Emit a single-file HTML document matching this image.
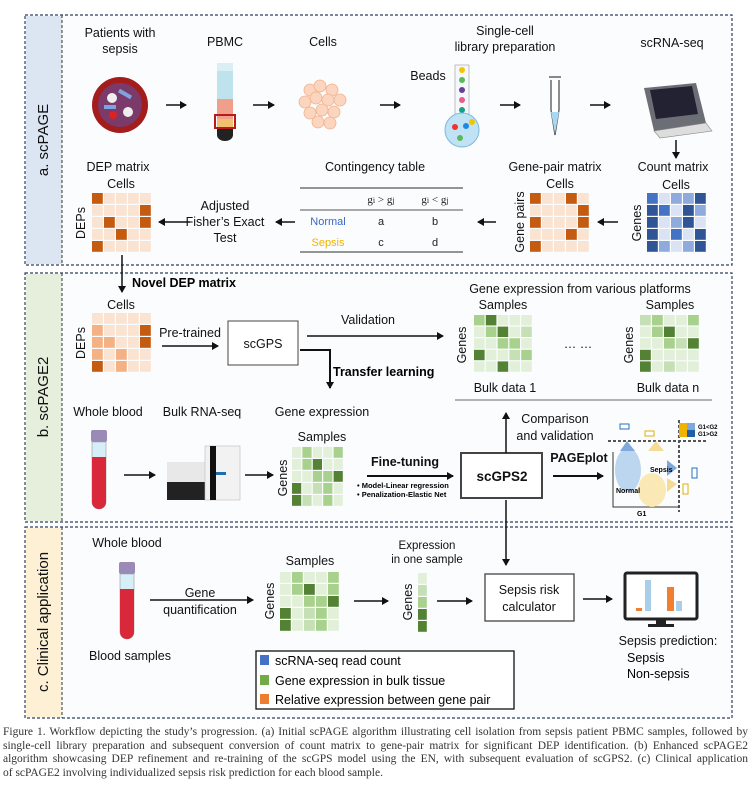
<!DOCTYPE html>
<html><head><meta charset="utf-8"><style>
html,body{margin:0;padding:0;background:#fff;}
svg{display:block;font-family:"Liberation Sans",sans-serif;}
.t{font-size:12.5px;fill:#111;text-anchor:middle;}
.b{font-weight:bold;}
.cap{position:absolute;left:3px;top:726px;width:745px;font-family:"Liberation Serif",serif;font-size:11.5px;line-height:13.6px;color:#333;}
.cap div{text-align:justify;text-align-last:justify;white-space:nowrap;}
.cap div.l{text-align-last:left;}
</style></head><body>
<div style="position:relative;width:752px;height:794px;overflow:hidden">
<svg id="s" width="752" height="794" viewBox="0 0 752 794">
<defs>
<marker id="ar" markerWidth="8" markerHeight="8" refX="6" refY="4" orient="auto" markerUnits="userSpaceOnUse"><path d="M0,0 L7,4 L0,8 z" fill="#111"/></marker>
</defs>
<rect x="25" y="15" width="707" height="250" fill="#fbfcfd" stroke="#2f3f5f" stroke-dasharray="3,2" stroke-width="1.2"/>
<rect x="26" y="16" width="36" height="248" fill="#dce6f2"/>
<line x1="62" y1="15" x2="62" y2="265" stroke="#333" stroke-dasharray="3,2"/>
<rect x="25" y="273" width="707" height="249" fill="#fbfcfd" stroke="#2f3f5f" stroke-dasharray="3,2" stroke-width="1.2"/>
<rect x="26" y="274" width="36" height="247" fill="#e5efdc"/>
<line x1="62" y1="273" x2="62" y2="522" stroke="#333" stroke-dasharray="3,2"/>
<rect x="25" y="527" width="707" height="191" fill="#fbfcfd" stroke="#2f3f5f" stroke-dasharray="3,2" stroke-width="1.2"/>
<rect x="26" y="528" width="36" height="189" fill="#fdf0d5"/>
<line x1="62" y1="527" x2="62" y2="718" stroke="#333" stroke-dasharray="3,2"/>
<text class="t" style="font-size:15px" transform="translate(48,140) rotate(-90)">a. scPAGE</text>
<text class="t" style="font-size:15px" transform="translate(48,397) rotate(-90)">b. scPAGE2</text>
<text class="t" style="font-size:15px" transform="translate(48,622) rotate(-90)">c. Clinical application</text>

<text class="t" x="120" y="37">Patients with</text><text class="t" x="120" y="53">sepsis</text>
<text class="t" x="225" y="46">PBMC</text>
<text class="t" x="323" y="46">Cells</text>
<text class="t" x="505" y="35">Single-cell</text><text class="t" x="505" y="51">library preparation</text>
<text class="t" x="672" y="47">scRNA-seq</text>
<text class="t" x="428" y="80">Beads</text>
<circle cx="120" cy="105" r="28" fill="#a31d1d"/><circle cx="120" cy="105" r="22" fill="#7a3a6a"/>
<circle cx="112" cy="98" r="5" fill="#eee"/><circle cx="128" cy="112" r="5" fill="#eee"/><circle cx="113" cy="115" r="4" fill="#d22"/>
<rect x="118" y="92" width="14" height="4" fill="#7da3e0" transform="rotate(30 125 94)"/><rect x="104" y="105" width="12" height="4" fill="#7da3e0"/>
<rect x="217" y="63" width="16" height="8" fill="#dbeef3"/><rect x="217" y="71" width="16" height="28" fill="#bfe3ec"/>
<rect x="217" y="99" width="16" height="20" fill="#f0a08a"/><rect x="217" y="119" width="16" height="10" fill="#f2c070"/>
<rect x="215" y="115" width="20" height="13" fill="none" stroke="#b71c1c" stroke-width="2"/>
<path d="M217,129 h16 v6 a8,6 0 0 1 -16,0z" fill="#222"/>
<g fill="#fbd5bd" stroke="#f0b090" stroke-width=".8">
<circle cx="310" cy="90" r="6"/><circle cx="320" cy="86" r="6"/><circle cx="332" cy="90" r="6"/><circle cx="340" cy="100" r="6"/><circle cx="305" cy="102" r="6"/><circle cx="316" cy="98" r="6"/><circle cx="328" cy="100" r="6"/><circle cx="310" cy="113" r="6"/><circle cx="322" cy="110" r="6"/><circle cx="334" cy="112" r="6"/><circle cx="318" cy="122" r="6"/><circle cx="330" cy="123" r="6"/></g>
<rect x="455" y="65" width="14" height="50" fill="#f4f8fb" stroke="#999" stroke-width=".6"/>
<circle cx="462" cy="70" r="3" fill="#f5c400"/><circle cx="462" cy="80" r="3" fill="#5cb85c"/><circle cx="462" cy="90" r="3" fill="#6a3d9a"/><circle cx="462" cy="100" r="3" fill="#e85c8a"/><circle cx="462" cy="110" r="3" fill="#16a085"/>
<circle cx="462" cy="130" r="17" fill="#bfe3f5" stroke="#7fb8d8"/>
<circle cx="455" cy="127" r="3" fill="#e33"/><circle cx="466" cy="126" r="3" fill="#1e88e5"/><circle cx="460" cy="138" r="3" fill="#5cb85c"/><circle cx="472" cy="122" r="3" fill="#f5c400"/>
<path d="M549,77 h12 M551,80 v30 l4,25 l4,-25 v-30" fill="#fff" stroke="#444" stroke-width="1.2"/>
<path d="M551,112 h8 l-4,22z" fill="#a8d8ef"/>
<path d="M644,88 l52,-5 l10,40 l-52,8z" fill="#6b6f75"/><path d="M650,90 l42,-4 l6,28 l-42,5z" fill="#223"/>
<path d="M654,131 l52,-8 l6,8 l-52,7z" fill="#ddd" stroke="#888" stroke-width=".6"/>
<g stroke="#111" stroke-width="1.5" marker-end="url(#ar)" fill="none">
<line x1="166" y1="105" x2="186" y2="105"/><line x1="253" y1="105" x2="274" y2="105"/><line x1="380" y1="105" x2="400" y2="105"/><line x1="500" y1="105" x2="520" y2="105"/><line x1="590" y1="105" x2="610" y2="105"/>
<line x1="676" y1="140" x2="676" y2="158"/>
<line x1="190" y1="222" x2="159" y2="222"/><line x1="295" y1="222" x2="276" y2="222"/><line x1="496" y1="222" x2="478" y2="222"/><line x1="618" y1="222" x2="598" y2="222"/>
</g>
<text class="t" x="118" y="171">DEP matrix</text><text class="t" x="121" y="188">Cells</text>
<text class="t" transform="translate(85,223) rotate(-90)">DEPs</text>
<text class="t" x="225" y="210">Adjusted</text><text class="t" x="225" y="226">Fisher’s Exact</text><text class="t" x="225" y="242">Test</text>
<text class="t" x="375" y="171">Contingency table</text>
<line x1="300" y1="188" x2="463" y2="188" stroke="#555" stroke-width="1.3"/><line x1="300" y1="210" x2="463" y2="210" stroke="#555"/><line x1="300" y1="252" x2="463" y2="252" stroke="#555" stroke-width="1.3"/>
<g style="font-family:'Liberation Serif',serif;font-size:11px" text-anchor="middle" fill="#222">
<text x="381" y="203">g<tspan font-size="8">i</tspan> &gt; g<tspan font-size="8">j</tspan></text><text x="435" y="203">g<tspan font-size="8">i</tspan> &lt; g<tspan font-size="8">j</tspan></text>
<text x="381" y="225" font-family="Liberation Sans">a</text><text x="435" y="225" font-family="Liberation Sans">b</text><text x="381" y="246" font-family="Liberation Sans">c</text><text x="435" y="246" font-family="Liberation Sans">d</text></g>
<text class="t" x="328" y="225" style="font-size:11px;fill:#3a68c4">Normal</text><text class="t" x="328" y="246" style="font-size:11px;fill:#f0b400">Sepsis</text>
<text class="t" x="555" y="171">Gene-pair matrix</text><text class="t" x="560" y="188">Cells</text>
<text class="t" transform="translate(524,222) rotate(-90)">Gene pairs</text>
<text class="t" x="673" y="171">Count matrix</text><text class="t" x="676" y="189">Cells</text>
<text class="t" transform="translate(641,223) rotate(-90)">Genes</text>

<line x1="122" y1="255" x2="122" y2="292" stroke="#111" stroke-width="1.5" marker-end="url(#ar)"/>
<text x="132" y="287" style="font-size:12.5px;font-weight:bold">Novel DEP matrix</text>
<text class="t" x="121" y="309">Cells</text>
<text class="t" transform="translate(85,343) rotate(-90)">DEPs</text>
<text class="t" x="190" y="337">Pre-trained</text>
<rect x="228" y="321" width="70" height="44" fill="#fff" stroke="#444"/>
<text class="t" x="263" y="348">scGPS</text>
<text class="t" x="368" y="324">Validation</text>
<path d="M300,350 h30 v38" fill="none" stroke="#111" stroke-width="2" marker-end="url(#ar)"/>
<text x="333" y="376" style="font-size:12.5px;font-weight:bold">Transfer learning</text>
<text class="t" x="580" y="293">Gene expression from various platforms</text>
<text class="t" x="503" y="309">Samples</text><text class="t" x="670" y="309">Samples</text>
<text class="t" transform="translate(466,345) rotate(-90)">Genes</text><text class="t" transform="translate(633,345) rotate(-90)">Genes</text>
<text class="t" x="578" y="348">… …</text>
<text class="t" x="505" y="392">Bulk data 1</text><text class="t" x="668" y="392">Bulk data n</text>
<line x1="455" y1="400" x2="712" y2="400" stroke="#999" stroke-width="1.5"/>
<text class="t" x="108" y="416">Whole blood</text><text class="t" x="202" y="416">Bulk RNA-seq</text><text class="t" x="322" y="416">Gene expression</text>
<rect x="91" y="430" width="16" height="12" rx="2" fill="#9b8ab8"/><path d="M92,442 h14 v60 a7,7 0 0 1 -14,0z" fill="#d6eef7" stroke="#999" stroke-width=".6"/><path d="M92,457 h14 v45 a7,7 0 0 1 -14,0z" fill="#d8283a"/>
<rect x="167" y="482" width="38" height="18" fill="#222"/><rect x="167" y="462" width="38" height="20" fill="#e8e8e8"/>
<rect x="205" y="446" width="35" height="54" fill="#f2f2f2" stroke="#bbb" stroke-width=".6"/><rect x="210" y="446" width="6" height="54" fill="#111"/><rect x="216" y="472" width="10" height="3" fill="#1e6fb0"/>
<text class="t" x="322" y="441">Samples</text>
<text class="t" transform="translate(287,478) rotate(-90)">Genes</text>
<text x="405" y="466" class="t b">Fine-tuning</text>
<text x="357" y="488" style="font-size:7.5px;font-weight:bold">• Model-Linear regression</text>
<text x="357" y="497" style="font-size:7.5px;font-weight:bold">• Penalization-Elastic Net</text>
<rect x="461" y="453" width="81" height="45" fill="#fff" stroke="#444" stroke-width="2"/>
<text class="t b" x="502" y="481" style="font-size:13.5px">scGPS2</text>
<text class="t b" x="579" y="462">PAGEplot</text>
<text class="t" x="555" y="423">Comparison</text><text class="t" x="555" y="440">and validation</text>
<g stroke="#111" stroke-width="1.5" marker-end="url(#ar)" fill="none">
<line x1="162" y1="346" x2="218" y2="346"/><line x1="307" y1="336" x2="443" y2="336"/>
<line x1="124" y1="475" x2="155" y2="475"/><line x1="245" y1="475" x2="273" y2="475"/>
<line x1="367" y1="476" x2="453" y2="476" stroke-width="2"/><line x1="553" y1="476" x2="603" y2="476" stroke-width="2"/>
<line x1="506" y1="453" x2="506" y2="413"/><line x1="506" y1="500" x2="506" y2="565"/>
<line x1="150" y1="600" x2="253" y2="600"/><line x1="354" y1="601" x2="388" y2="601"/><line x1="437" y1="601" x2="472" y2="601"/><line x1="583" y1="599" x2="612" y2="599"/>
</g>
<g>
<line x1="608" y1="441" x2="708" y2="441" stroke="#555" stroke-width="2" stroke-dasharray="3,2"/>
<line x1="679" y1="420" x2="679" y2="512" stroke="#555" stroke-width="2" stroke-dasharray="3,2"/>
<path d="M613,452 v55 h66" fill="none" stroke="#333"/>
<ellipse cx="628" cy="470" rx="13" ry="22" fill="#bcd6ef"/><ellipse cx="652" cy="490" rx="14" ry="17" fill="#fbe9b5"/>
<path d="M620,451 l7,-10 l8,10z" fill="#7fa8db"/><path d="M648,451 l8,-10 l8,10z" fill="#f5dc96"/>
<path d="M667,460 l10,8 l-10,8z" fill="#7fa8db"/><path d="M667,478 l10,6 l-10,8z" fill="#f5dc96"/>
<rect x="620" y="424" width="9" height="5" fill="#fff" stroke="#2a6fc0"/><rect x="645" y="431" width="9" height="5" fill="#fff" stroke="#e0b000"/>
<rect x="692" y="468" width="5" height="10" fill="#fff" stroke="#2a6fc0"/><rect x="683" y="484" width="5" height="10" fill="#fff" stroke="#e0b000"/>
<text x="650" y="472" style="font-size:7px;font-weight:bold">Sepsis</text><text x="616" y="493" style="font-size:7px;font-weight:bold">Normal</text>
<text x="637" y="516" style="font-size:7px;font-weight:bold">G1</text>
<rect x="679" y="423" width="8" height="7" fill="#f0b400"/><rect x="687" y="423" width="8" height="7" fill="#7fa8db"/><rect x="679" y="430" width="8" height="7" fill="#f0b400"/><rect x="687" y="430" width="8" height="7" fill="#1e5fa8"/>
<text x="698" y="429" style="font-size:6px;font-weight:bold">G1&lt;G2</text><text x="698" y="436" style="font-size:6px;font-weight:bold">G1&gt;G2</text>
</g>
<text class="t" x="127" y="547">Whole blood</text>
<rect x="119" y="562" width="16" height="12" rx="2" fill="#9b8ab8"/><path d="M120,574 h14 v58 a7,7 0 0 1 -14,0z" fill="#d6eef7" stroke="#999" stroke-width=".6"/><path d="M120,589 h14 v43 a7,7 0 0 1 -14,0z" fill="#d8283a"/>
<text class="t" x="130" y="660">Blood samples</text>
<text class="t" x="200" y="597">Gene</text><text class="t" x="200" y="614">quantification</text>
<text class="t" x="310" y="565">Samples</text>
<text class="t" transform="translate(274,601) rotate(-90)">Genes</text>
<text class="t" x="427" y="549" style="font-size:11.5px">Expression</text><text class="t" x="427" y="563" style="font-size:11.5px">in one sample</text>
<text class="t" transform="translate(412,602) rotate(-90)">Genes</text>
<rect x="485" y="574" width="89" height="47" fill="#fff" stroke="#444" stroke-width="1.3"/>
<text class="t" x="529" y="594">Sepsis risk</text><text class="t" x="529" y="611">calculator</text>
<rect x="625" y="573" width="72" height="46" rx="2" fill="#fff" stroke="#222" stroke-width="3"/>
<rect x="656" y="619" width="10" height="6" fill="#222"/><rect x="648" y="624" width="26" height="3" fill="#222"/>
<rect x="636" y="608" width="6" height="3" fill="#f08030"/><rect x="645" y="580" width="6" height="31" fill="#a9cfe8"/><rect x="667" y="587" width="7" height="24" fill="#f08030"/><rect x="676" y="601" width="6" height="10" fill="#a9cfe8"/>
<text class="t" x="668" y="645">Sepsis prediction:</text>
<text x="627" y="662" style="font-size:12.5px">Sepsis</text><text x="627" y="678" style="font-size:12.5px">Non-sepsis</text>
<rect x="256" y="651" width="258" height="58" fill="#fff" stroke="#111" stroke-width="1.3"/>
<rect x="260" y="655" width="9" height="10" fill="#4472c4"/><rect x="260" y="675" width="9" height="10" fill="#70ad47"/><rect x="260" y="694" width="9" height="10" fill="#ed7d31"/>
<text x="275" y="665" style="font-size:12.5px">scRNA-seq read count</text>
<text x="275" y="685" style="font-size:12.5px">Gene expression in bulk tissue</text>
<text x="275" y="704" style="font-size:12.5px">Relative expression between gene pair</text>
</svg>
<div class="cap">
<div>Figure 1. Workflow depicting the study’s progression. (a) Initial scPAGE algorithm illustrating cell isolation from sepsis patient PBMC samples, followed by</div>
<div>single-cell library preparation and subsequent conversion of count matrix to gene-pair matrix for significant DEP identification. (b) Enhanced scPAGE2</div>
<div>algorithm showcasing DEP refinement and re-training of the scGPS model using the EN, with subsequent evaluation of scGPS2. (c) Clinical application</div>
<div class="l">of scPAGE2 involving individualized sepsis risk prediction for each blood sample.</div>
</div>
</div>
<script>
var s=document.getElementById('s'),NS='http://www.w3.org/2000/svg';
function mat(x,y,w,h,cols,rows,pal,grid){var cw=w/cols,ch=h/rows;for(var r=0;r<rows;r++)for(var c=0;c<cols;c++){var e=document.createElementNS(NS,'rect');e.setAttribute('x',x+c*cw);e.setAttribute('y',y+r*ch);e.setAttribute('width',cw-1.2);e.setAttribute('height',ch-1.2);e.setAttribute('fill',pal[grid[r][c]]);s.appendChild(e);}}
var O=['#fbe3d2','#c55a11','#f4b183'],B=['#dae3f3','#2f5597','#8faadc','#4472c4'],G=['#e2f0d9','#548235','#a9d18e','#c5e0b4'];
mat(92,193,60,60,5,5,O,[[1,0,0,0,0],[0,0,0,0,1],[0,1,0,0,1],[0,0,1,0,0],[1,0,0,0,0]]);
mat(530,193,60,60,5,5,O,[[1,0,0,1,0],[0,0,0,0,1],[1,0,0,0,1],[0,0,0,1,0],[1,0,0,0,0]]);
mat(647,193,60,60,5,5,B,[[3,0,2,2,1],[1,3,0,1,2],[1,0,2,1,0],[1,0,3,0,1],[1,2,0,2,1]]);
mat(92,313,60,60,5,5,O,[[0,0,0,0,0],[2,0,0,0,1],[2,2,0,0,1],[2,0,2,0,0],[1,0,2,0,0]]);
mat(474,315,59,58,5,5,G,[[2,1,0,0,0],[0,2,1,0,3],[0,0,2,2,0],[1,0,0,3,2],[0,0,1,0,0]]);
mat(640,315,60,58,5,5,G,[[3,2,0,0,2],[0,2,1,0,0],[0,0,2,3,1],[1,0,0,0,0],[1,0,3,0,0]]);
mat(292,447,52,60,5,5,G,[[0,2,0,0,2],[0,2,1,0,0],[0,0,2,2,1],[1,0,3,2,0],[1,3,0,2,0]]);
mat(280,572,60,60,5,5,G,[[0,2,0,0,2],[0,2,1,0,2],[0,0,2,2,1],[1,0,3,2,0],[1,0,3,2,0]]);
mat(418,573,10,60,1,5,G,[[0],[3],[2],[1],[1]]);
</script>
</body></html>
